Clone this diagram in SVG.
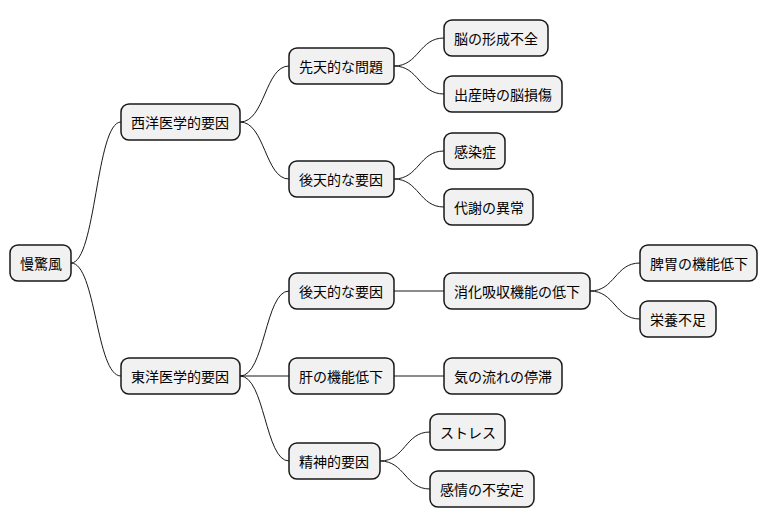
<svg xmlns="http://www.w3.org/2000/svg" width="768" height="527" viewBox="0 0 768 527">
<style>
.n rect{fill:#F1F1F1;stroke:#181818;stroke-width:1.5}
.n text{font-family:"Noto Sans CJK JP","Noto Sans CJK SC",sans-serif;font-size:14px;fill:#000;dominant-baseline:central}
#c path{fill:none;stroke:#181818;stroke-width:1}
</style>
<rect width="768" height="527" fill="#fff"/>
<g id="c">
<path d="M71,263 C96,263 96,122 121,122"/>
<path d="M71,263 C96,263 96,376 121,376"/>
<path d="M240,122 C265,122 265,66 289,66"/>
<path d="M240,122 C265,122 265,179 289,179"/>
<path d="M394,66 C419,66 419,38 444,38"/>
<path d="M394,66 C419,66 419,94 444,94"/>
<path d="M394,179 C419,179 419,151 444,151"/>
<path d="M394,179 C419,179 419,207 444,207"/>
<path d="M240,376 C265,376 265,291 289,291"/>
<path d="M240,376 L289,376"/>
<path d="M240,376 C265,376 265,461 289,461"/>
<path d="M394,291 L444,291"/>
<path d="M590,291 C615,291 615,263 640,263"/>
<path d="M590,291 C615,291 615,319 640,319"/>
<path d="M394,376 L444,376"/>
<path d="M380,461 C405,461 405,432 430,432"/>
<path d="M380,461 C405,461 405,489 430,489"/>
</g>
<g id="n0" class="n"><rect x="10" y="245" width="61" height="36" rx="8"/><text x="20" y="263">慢驚風</text></g>
<g id="n1" class="n"><rect x="121" y="104" width="119" height="36" rx="8"/><text x="131" y="122">西洋医学的要因</text></g>
<g id="n2" class="n"><rect x="121" y="358" width="119" height="36" rx="8"/><text x="131" y="376">東洋医学的要因</text></g>
<g id="n3" class="n"><rect x="289" y="48" width="105" height="36" rx="8"/><text x="299" y="66">先天的な問題</text></g>
<g id="n4" class="n"><rect x="289" y="161" width="105" height="36" rx="8"/><text x="299" y="179">後天的な要因</text></g>
<g id="n5" class="n"><rect x="444" y="20" width="104" height="36" rx="8"/><text x="454" y="38">脳の形成不全</text></g>
<g id="n6" class="n"><rect x="444" y="76" width="118" height="36" rx="8"/><text x="454" y="94">出産時の脳損傷</text></g>
<g id="n7" class="n"><rect x="444" y="133" width="61" height="36" rx="8"/><text x="454" y="151">感染症</text></g>
<g id="n8" class="n"><rect x="444" y="189" width="89" height="36" rx="8"/><text x="454" y="207">代謝の異常</text></g>
<g id="n9" class="n"><rect x="289" y="273" width="105" height="36" rx="8"/><text x="299" y="291">後天的な要因</text></g>
<g id="n10" class="n"><rect x="444" y="273" width="146" height="36" rx="8"/><text x="454" y="291">消化吸収機能の低下</text></g>
<g id="n11" class="n"><rect x="640" y="245" width="117" height="36" rx="8"/><text x="650" y="263">脾胃の機能低下</text></g>
<g id="n12" class="n"><rect x="640" y="301" width="76" height="36" rx="8"/><text x="650" y="319">栄養不足</text></g>
<g id="n13" class="n"><rect x="289" y="358" width="105" height="36" rx="8"/><text x="299" y="376">肝の機能低下</text></g>
<g id="n14" class="n"><rect x="444" y="358" width="118" height="36" rx="8"/><text x="454" y="376">気の流れの停滞</text></g>
<g id="n15" class="n"><rect x="289" y="443" width="91" height="36" rx="8"/><text x="299" y="461">精神的要因</text></g>
<g id="n16" class="n"><rect x="430" y="414" width="75" height="36" rx="8"/><text x="440" y="432">ストレス</text></g>
<g id="n17" class="n"><rect x="430" y="471" width="104" height="36" rx="8"/><text x="440" y="489">感情の不安定</text></g>
</svg>
